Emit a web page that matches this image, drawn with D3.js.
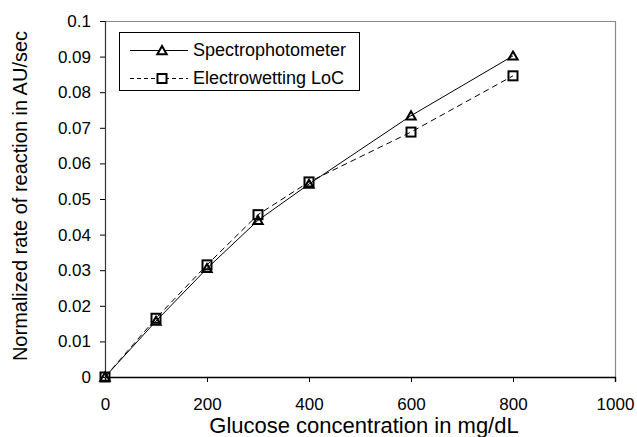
<!DOCTYPE html>
<html>
<head>
<meta charset="utf-8">
<script src="https://cdn.jsdelivr.net/npm/d3@7"></script>
<style>
  body { margin: 0; background: #fff; }
  text { font-family: "Liberation Sans", Arial, sans-serif; fill: #000; }
</style>
</head>
<body>
<div id="chart"></div>
<script>
// glucose concentration (mg/dL)
var concentrations = [0, 100, 200, 300, 400, 600, 800];
// normalized rate of reaction (AU/sec)
var spectroValues = [0, 0.0157, 0.0305, 0.0440, 0.0542, 0.0734, 0.0902];
var locValues     = [0, 0.0165, 0.0315, 0.0456, 0.0548, 0.0688, 0.0846];
var seriesNames = ["Spectrophotometer", "Electrowetting LoC"];
var xTicks = [0, 200, 400, 600, 800, 1000];
var yTicks = [0, 0.01, 0.02, 0.03, 0.04, 0.05, 0.06, 0.07, 0.08, 0.09, 0.1];

var W = 637, H = 437;
var margin = {top: 21, right: 22, bottom: 60, left: 105};
var width = W - margin.left - margin.right,
    height = H - margin.top - margin.bottom;

var svg = d3.select("#chart").append("svg")
    .attr("width", W)
    .attr("height", H);
var g = svg.append("g")
    .attr("transform", "translate(" + margin.left + "," + margin.top + ")");

var x = d3.scaleLinear().domain([0, 1000]).range([0, width]);
var y = d3.scaleLinear().domain([0, 0.1]).range([height, 0]);

//top and right frame lines (grey)
g.append("line").attr("x1", 0).attr("x2", width).attr("y1", 0.5).attr("y2", 0.5)
    .attr("stroke", "#8a8a8a").attr("stroke-width", 1.2);
g.append("line").attr("x1", width + 0.5).attr("x2", width + 0.5).attr("y1", 0).attr("y2", height)
    .attr("stroke", "#8a8a8a").attr("stroke-width", 1.2);

//x axis
var xAxis = g.append("g")
    .attr("transform", "translate(0," + height + ")")
    .call(d3.axisBottom(x).tickValues(xTicks).tickSize(5).tickPadding(16).tickFormat(d3.format("d")));
xAxis.selectAll("text").style("font-size", "17px");
xAxis.select(".domain").attr("stroke", "#000").attr("stroke-width", 1.4);

//y axis
var yAxis = g.append("g")
    .call(d3.axisLeft(y).tickValues(yTicks).tickSize(5).tickPadding(9)
        .tickFormat(function(d){ return d === 0 ? "0" : String(+d.toFixed(2)); }));
yAxis.selectAll("text").style("font-size", "17px");
yAxis.select(".domain").attr("stroke", "#333").attr("stroke-width", 1.2);
[xAxis, yAxis].forEach(function(a){ a.selectAll(".tick line").attr("stroke", "#000"); });

//axis titles
svg.append("text")
    .attr("x", 364)
    .attr("y", 433)
    .attr("text-anchor", "middle")
    .style("font-size", "22px")
    .text("Glucose concentration in mg/dL");
svg.append("text")
    .attr("transform", "translate(27," + 196 + ") rotate(-90)")
    .attr("text-anchor", "middle")
    .style("font-size", "20px")
    .text("Normalized rate of reaction in AU/sec");

var series = [
  {name: seriesNames[0], values: spectroValues, dash: null, marker: "triangle"},
  {name: seriesNames[1], values: locValues, dash: "6,4", marker: "square"}
];

var line = d3.line()
    .x(function(d){ return x(d[0]); })
    .y(function(d){ return y(d[1]); });

function drawMarker(sel, type) {
  if (type === "triangle") {
    sel.append("path")
      .attr("d", d3.symbol().type(d3.symbolTriangle).size(38))
      .attr("transform", "translate(0,1)")
      .attr("fill", "none").attr("stroke", "#000").attr("stroke-width", 2);
  } else {
    sel.append("rect")
      .attr("x", -4.5).attr("y", -4.5).attr("width", 9).attr("height", 9)
      .attr("fill", "none").attr("stroke", "#000").attr("stroke-width", 2);
  }
}

series.forEach(function(s){
  var pts = concentrations.map(function(c, i){ return [c, s.values[i]]; });
  g.append("path")
    .datum(pts)
    .attr("d", line)
    .attr("fill", "none")
    .attr("stroke", "#000")
    .attr("stroke-width", 1)
    .attr("stroke-dasharray", s.dash);
  g.selectAll(null).data(pts).enter().append("g")
    .attr("transform", function(d){ return "translate(" + x(d[0]) + "," + y(d[1]) + ")"; })
    .each(function(){ drawMarker(d3.select(this), s.marker); });
});

//legend
var legend = svg.append("g");
legend.append("rect")
    .attr("x", 119.5).attr("y", 32.5).attr("width", 240).attr("height", 58)
    .attr("fill", "#fff").attr("stroke", "#000").attr("stroke-width", 1);
series.forEach(function(s, i){
  var ly = 50.5 + i * 28;
  legend.append("line")
    .attr("x1", 130).attr("x2", 188).attr("y1", ly).attr("y2", ly)
    .attr("stroke", "#000").attr("stroke-width", 1)
    .attr("stroke-dasharray", s.dash ? "4,3" : null);
  var m = legend.append("g").attr("transform", "translate(162," + ly + ")");
  if (s.marker === "square") {
    m.append("rect").attr("x", -4.5).attr("y", -4.5).attr("width", 9).attr("height", 9).attr("fill", "#fff");
  } else {
    m.append("path").attr("d", d3.symbol().type(d3.symbolTriangle).size(38)).attr("transform", "translate(0,1)").attr("fill", "#fff");
  }
  drawMarker(m, s.marker);
  legend.append("text")
    .attr("x", 193).attr("y", ly + 5)
    .style("font-size", "18px")
    .text(s.name);
});
</script>
</body>
</html>
